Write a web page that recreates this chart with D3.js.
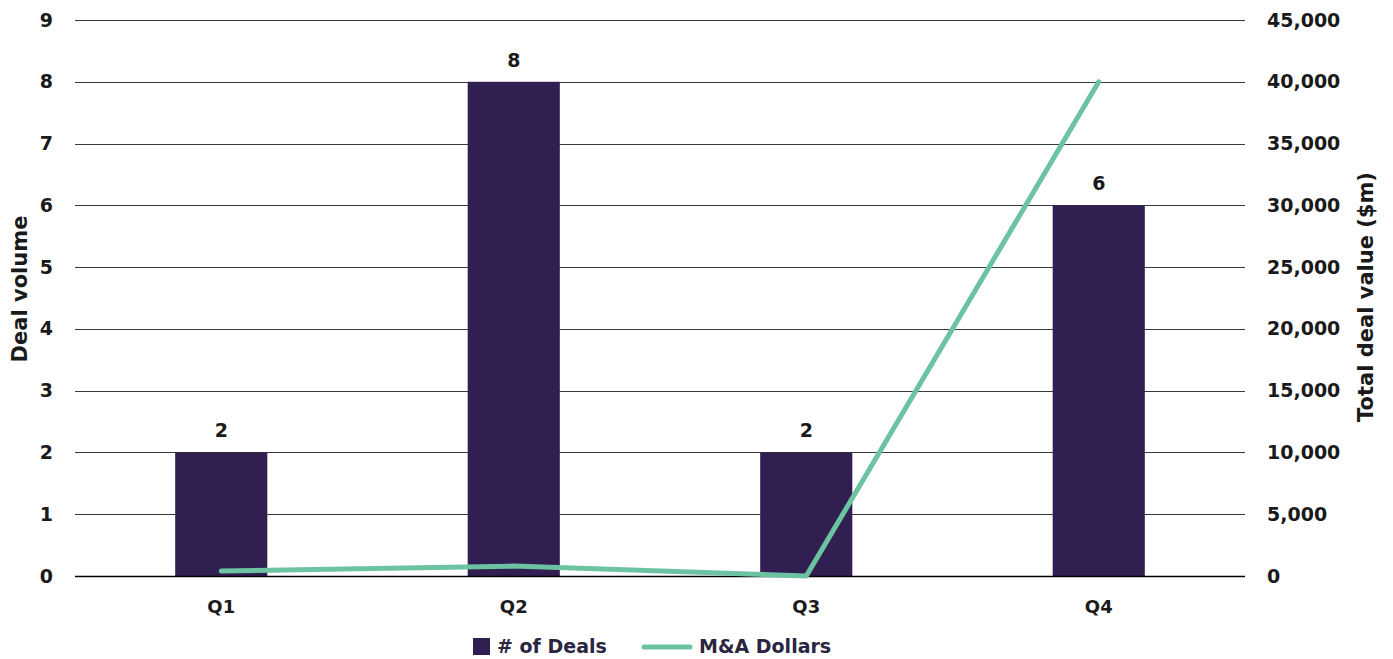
<!DOCTYPE html>
<html>
<head>
<meta charset="utf-8">
<script src="https://cdn.jsdelivr.net/npm/d3@7"></script>
<style>
  body { margin: 0; background: #fff; }
  svg text { font-family: "DejaVu Sans", sans-serif; font-weight: 700; }
</style>
</head>
<body>
<svg id="chart" width="1393" height="659"></svg>
<script>
// Quarterly deal counts and total deal value
const quarters = ["Q1", "Q2", "Q3", "Q4"];
const dealCounts = [2, 8, 2, 6];
const dealValues = [400, 800, 0, 40000];
const leftTicks = [0, 1, 2, 3, 4, 5, 6, 7, 8, 9];
const rightTicks = [0, 5000, 10000, 15000, 20000, 25000, 30000, 35000, 40000, 45000];

const svg = d3.select("#chart");
const margin = { left: 75, right: 148, top: 20, bottom: 83 };
const W = 1393, H = 659;
const x0 = margin.left, x1 = W - margin.right;
const yTop = margin.top, yBot = H - margin.bottom;

const x = d3.scaleBand().domain(quarters).range([x0, x1]).paddingInner(0.685).paddingOuter(0.3425);
const yL = d3.scaleLinear().domain([0, 9]).range([yBot, yTop]);
const yR = d3.scaleLinear().domain([0, 45000]).range([yBot, yTop]);

const barColor = "#321f52";
const lineColor = "#6cc3a2";
const textColor = "#1a1a1a";
const fontFam = "'DejaVu Sans', sans-serif";

// gridlines
svg.append("g").selectAll("line").data(leftTicks.filter(d => d > 0)).join("line")
  .attr("x1", x0).attr("x2", x1)
  .attr("y1", d => Math.round(yL(d)) + 0.5).attr("y2", d => Math.round(yL(d)) + 0.5)
  .attr("stroke", "#3a3a3a").attr("stroke-width", 1);

// bars
svg.append("g").selectAll("rect").data(quarters).join("rect")
  .attr("x", d => x(d)).attr("width", x.bandwidth())
  .attr("y", (d, i) => yL(dealCounts[i]))
  .attr("height", (d, i) => yBot - yL(dealCounts[i]))
  .attr("fill", barColor);

// bar value labels
svg.append("g").selectAll("text").data(quarters).join("text")
  .attr("x", d => x(d) + x.bandwidth() / 2)
  .attr("y", (d, i) => yL(dealCounts[i]) - 15)
  .attr("text-anchor", "middle")
  .attr("font-size", 19).attr("fill", textColor)
  .text((d, i) => dealCounts[i]);

// baseline
svg.append("line").attr("x1", x0).attr("x2", x1)
  .attr("y1", yBot + 0.5).attr("y2", yBot + 0.5)
  .attr("stroke", "#000").attr("stroke-width", 1.5);

// value line
const line = d3.line().x((d, i) => x(quarters[i]) + x.bandwidth() / 2).y(d => yR(d));
svg.append("path").datum(dealValues)
  .attr("d", line).attr("fill", "none")
  .attr("stroke", lineColor).attr("stroke-width", 5)
  .attr("stroke-linecap", "round").attr("stroke-linejoin", "round");

function styleTicks(g) {
  g.select(".domain").remove();
  g.selectAll("text").attr("font-size", 19).attr("fill", textColor)
    .attr("font-family", fontFam).attr("font-weight", 700);
}

// left axis
const leftAxis = d3.axisLeft(yL).tickValues(leftTicks).tickSize(0).tickPadding(0).tickFormat(d3.format("d"));
svg.append("g").attr("transform", `translate(${x0 - 22},0)`).call(leftAxis).call(styleTicks);

// right axis
const rightAxis = d3.axisRight(yR).tickValues(rightTicks).tickSize(0).tickPadding(0).tickFormat(d3.format(","));
svg.append("g").attr("transform", `translate(${x1 + 22},0)`).call(rightAxis).call(styleTicks);

// category axis
const bottomAxis = d3.axisBottom(x).tickSize(0).tickPadding(0);
const gb = svg.append("g").attr("transform", `translate(0,${yBot})`).call(bottomAxis).call(styleTicks);
gb.selectAll("text").attr("font-size", 18).attr("dy", null).attr("y", 37);

// axis titles
svg.append("text").attr("transform", `translate(27,289) rotate(-90)`)
  .attr("text-anchor", "middle").attr("font-size", 21).attr("fill", textColor)
  .text("Deal volume");
svg.append("text").attr("transform", `translate(1373,297) rotate(-90)`)
  .attr("text-anchor", "middle").attr("font-size", 21).attr("fill", textColor)
  .text("Total deal value ($m)");

// legend
const legend = svg.append("g").attr("transform", "translate(0,647)");
legend.append("rect").attr("x", 473).attr("y", -9).attr("width", 17).attr("height", 17).attr("fill", barColor);
legend.append("text").attr("x", 497).attr("y", 6).attr("font-size", 19).attr("fill", "#2a2540").text("# of Deals");
legend.append("line").attr("x1", 644).attr("x2", 690).attr("y1", 0).attr("y2", 0)
  .attr("stroke", lineColor).attr("stroke-width", 5).attr("stroke-linecap", "round");
legend.append("text").attr("x", 699).attr("y", 6).attr("font-size", 19).attr("fill", "#2a2540").text("M&A Dollars");
</script>
</body>
</html>
